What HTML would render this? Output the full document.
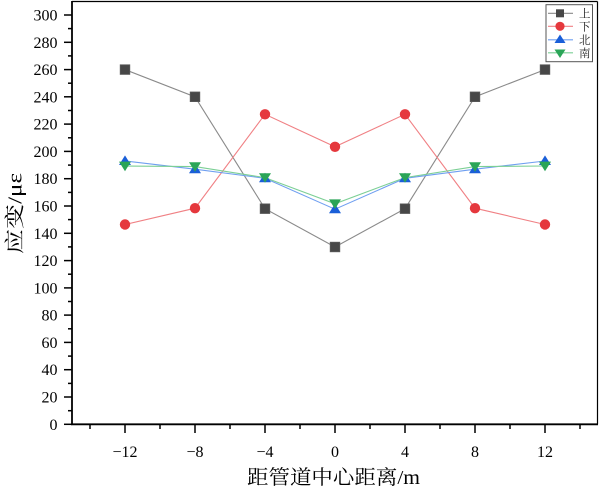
<!DOCTYPE html>
<html><head><meta charset="utf-8"><style>
html,body{margin:0;padding:0;background:#fff;}
svg{display:block;}
</style></head><body>
<svg width="600" height="489" viewBox="0 0 600 489" xmlns="http://www.w3.org/2000/svg">
<rect width="600" height="489" fill="#fff"/>
<!-- frame -->
<line x1="72" y1="1.5" x2="597.5" y2="1.5" stroke="#000" stroke-width="1.2"/>
<line x1="597.5" y1="1.5" x2="597.5" y2="424.3" stroke="#000" stroke-width="1.2"/>
<line x1="72" y1="1" x2="72" y2="425" stroke="#000" stroke-width="1.8"/>
<line x1="71" y1="424.3" x2="598" y2="424.3" stroke="#000" stroke-width="1.8"/>
<!-- y ticks -->
<g stroke="#000" stroke-width="1.5">
<line x1="64" y1="424.3" x2="72" y2="424.3"/><line x1="68" y1="410.7" x2="72" y2="410.7"/>
<line x1="64" y1="397.0" x2="72" y2="397.0"/><line x1="68" y1="383.4" x2="72" y2="383.4"/>
<line x1="64" y1="369.7" x2="72" y2="369.7"/><line x1="68" y1="356.1" x2="72" y2="356.1"/>
<line x1="64" y1="342.4" x2="72" y2="342.4"/><line x1="68" y1="328.8" x2="72" y2="328.8"/>
<line x1="64" y1="315.1" x2="72" y2="315.1"/><line x1="68" y1="301.5" x2="72" y2="301.5"/>
<line x1="64" y1="287.9" x2="72" y2="287.9"/><line x1="68" y1="274.2" x2="72" y2="274.2"/>
<line x1="64" y1="260.6" x2="72" y2="260.6"/><line x1="68" y1="246.9" x2="72" y2="246.9"/>
<line x1="64" y1="233.3" x2="72" y2="233.3"/><line x1="68" y1="219.6" x2="72" y2="219.6"/>
<line x1="64" y1="206.0" x2="72" y2="206.0"/><line x1="68" y1="192.4" x2="72" y2="192.4"/>
<line x1="64" y1="178.7" x2="72" y2="178.7"/><line x1="68" y1="165.1" x2="72" y2="165.1"/>
<line x1="64" y1="151.4" x2="72" y2="151.4"/><line x1="68" y1="137.8" x2="72" y2="137.8"/>
<line x1="64" y1="124.1" x2="72" y2="124.1"/><line x1="68" y1="110.5" x2="72" y2="110.5"/>
<line x1="64" y1="96.8" x2="72" y2="96.8"/><line x1="68" y1="83.2" x2="72" y2="83.2"/>
<line x1="64" y1="69.6" x2="72" y2="69.6"/><line x1="68" y1="55.9" x2="72" y2="55.9"/>
<line x1="64" y1="42.3" x2="72" y2="42.3"/><line x1="68" y1="28.6" x2="72" y2="28.6"/>
<line x1="64" y1="15.0" x2="72" y2="15.0"/>
</g>
<g font-family="'Liberation Serif',serif" font-size="16" fill="#000" text-anchor="end">
<text x="57.5" y="429.8">0</text><text x="57.5" y="402.5">20</text><text x="57.5" y="375.2">40</text>
<text x="57.5" y="347.9">60</text><text x="57.5" y="320.6">80</text><text x="57.5" y="293.4">100</text>
<text x="57.5" y="266.1">120</text><text x="57.5" y="238.8">140</text><text x="57.5" y="211.5">160</text>
<text x="57.5" y="184.2">180</text><text x="57.5" y="156.9">200</text><text x="57.5" y="129.6">220</text>
<text x="57.5" y="102.3">240</text><text x="57.5" y="75.1">260</text><text x="57.5" y="47.8">280</text>
<text x="57.5" y="20.5">300</text>
</g>
<!-- x ticks -->
<g stroke="#000" stroke-width="1.5">
<line x1="90" y1="424" x2="90" y2="429"/><line x1="125" y1="424" x2="125" y2="433"/>
<line x1="160" y1="424" x2="160" y2="429"/><line x1="195" y1="424" x2="195" y2="433"/>
<line x1="230" y1="424" x2="230" y2="429"/><line x1="265" y1="424" x2="265" y2="433"/>
<line x1="300" y1="424" x2="300" y2="429"/><line x1="335" y1="424" x2="335" y2="433"/>
<line x1="370" y1="424" x2="370" y2="429"/><line x1="405" y1="424" x2="405" y2="433"/>
<line x1="440" y1="424" x2="440" y2="429"/><line x1="475" y1="424" x2="475" y2="433"/>
<line x1="510" y1="424" x2="510" y2="429"/><line x1="545" y1="424" x2="545" y2="433"/>
<line x1="580" y1="424" x2="580" y2="429"/>
</g>
<g font-family="'Liberation Serif',serif" font-size="16" fill="#000" text-anchor="middle">
<text x="125" y="457">−12</text><text x="195" y="457">−8</text><text x="265" y="457">−4</text>
<text x="335" y="457">0</text><text x="405" y="457">4</text><text x="475" y="457">8</text>
<text x="545" y="457">12</text>
</g>
<text x="247" y="484" textLength="173" lengthAdjust="spacingAndGlyphs" font-family="'Liberation Serif','Noto Serif CJK SC',serif" font-size="20" fill="#000">距管道中心距离/m</text>
<text transform="translate(21.5,254) rotate(-90)" textLength="81" lengthAdjust="spacingAndGlyphs" font-family="'Liberation Serif','Noto Serif CJK SC',serif" font-size="20" fill="#000">应变/με</text>

<!-- series lines -->
<polyline fill="none" stroke="#8a8a8a" stroke-width="1.1" points="125,69.6 195,96.8 265,208.7 335,247 405,208.7 475,96.8 545,69.6"/>
<polyline fill="none" stroke="#f08084" stroke-width="1.1" points="125,224.5 195,208.2 265,114.3 335,146.8 405,114.3 475,208.2 545,224.5"/>
<polyline fill="none" stroke="#6f9ff0" stroke-width="1.1" points="125,161 195,169.2 265,178.3 335,209.2 405,178.3 475,169.2 545,161"/>
<polyline fill="none" stroke="#7ccf95" stroke-width="1.1" points="125,166 195,166.6 265,177.6 335,203.8 405,177.6 475,166.6 545,166"/>

<!-- markers 上 -->
<g fill="#474747" stroke="#5a5a5a" stroke-width="0.8">
<rect x="120.2" y="64.8" width="9.6" height="9.6"/><rect x="190.2" y="92" width="9.6" height="9.6"/>
<rect x="260.2" y="203.9" width="9.6" height="9.6"/><rect x="330.2" y="242.2" width="9.6" height="9.6"/>
<rect x="400.2" y="203.9" width="9.6" height="9.6"/><rect x="470.2" y="92" width="9.6" height="9.6"/>
<rect x="540.2" y="64.8" width="9.6" height="9.6"/>
</g>
<!-- 下 -->
<g fill="#e5383d">
<circle cx="125" cy="224.5" r="5.2"/><circle cx="195" cy="208.2" r="5.2"/><circle cx="265" cy="114.3" r="5.2"/>
<circle cx="335" cy="146.8" r="5.2"/><circle cx="405" cy="114.3" r="5.2"/><circle cx="475" cy="208.2" r="5.2"/>
<circle cx="545" cy="224.5" r="5.2"/>
</g>
<!-- 北 -->
<g fill="#1a5fd8">
<polygon points="125,155.4 131,165 119,165"/><polygon points="195,163.6 201,173.2 189,173.2"/>
<polygon points="265,172.7 271,182.3 259,182.3"/><polygon points="335,203.6 341,213.2 329,213.2"/>
<polygon points="405,172.7 411,182.3 399,182.3"/><polygon points="475,163.6 481,173.2 469,173.2"/>
<polygon points="545,155.4 551,165 539,165"/>
</g>
<!-- 南 -->
<g fill="#2aa557">
<polygon points="119,161.6 131,161.6 125,171.2"/><polygon points="189,162.2 201,162.2 195,171.8"/>
<polygon points="259,173.2 271,173.2 265,182.8"/><polygon points="329,199.4 341,199.4 335,209"/>
<polygon points="399,173.2 411,173.2 405,182.8"/><polygon points="469,162.2 481,162.2 475,171.8"/>
<polygon points="539,161.6 551,161.6 545,171.2"/>
</g>

<!-- legend -->
<rect x="546" y="4.7" width="46.5" height="57" fill="#fff" stroke="#555" stroke-width="1"/>
<line x1="548" y1="13.3" x2="573" y2="13.3" stroke="#8a8a8a" stroke-width="1.1"/>
<rect x="556" y="9.3" width="8" height="8" fill="#474747"/>
<line x1="548" y1="26.3" x2="573" y2="26.3" stroke="#f08084" stroke-width="1.1"/>
<circle cx="560" cy="26.3" r="4.6" fill="#e5383d"/>
<line x1="548" y1="39.8" x2="573" y2="39.8" stroke="#6f9ff0" stroke-width="1.1"/>
<polygon points="560,34.5 565.5,43 554.5,43" fill="#1a5fd8"/>
<line x1="548" y1="52.8" x2="573" y2="52.8" stroke="#7ccf95" stroke-width="1.1"/>
<polygon points="554.5,49.5 565.5,49.5 560,58" fill="#2aa557"/>
<g font-family="'Liberation Serif','Noto Serif CJK SC',serif" font-size="11.5" fill="#222">
<text x="579" y="17.5">上</text><text x="579" y="30.5">下</text><text x="579" y="44">北</text><text x="579" y="57">南</text>
</g>
</svg>
</body></html>
